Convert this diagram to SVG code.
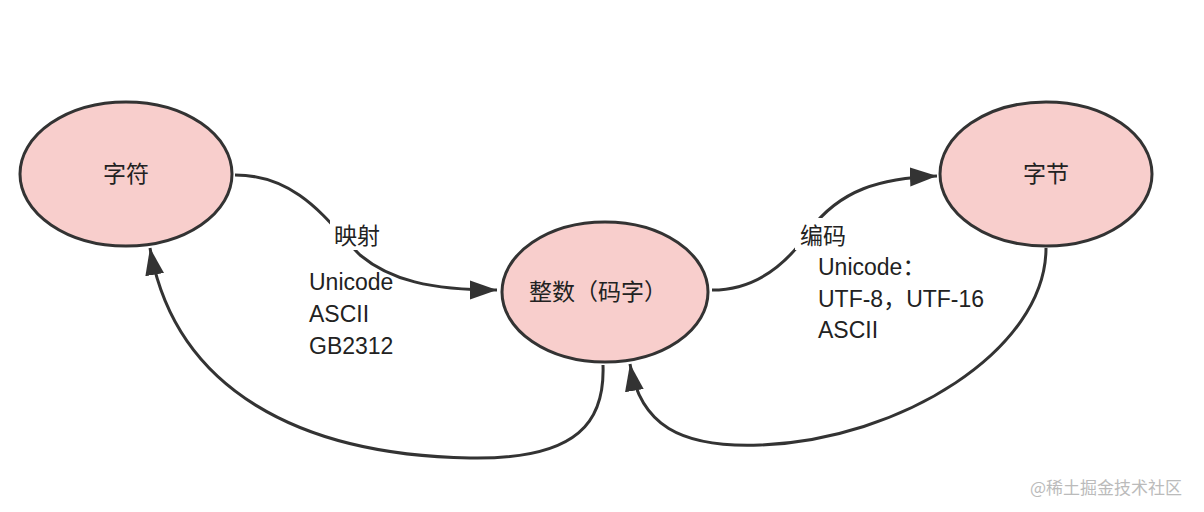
<svg xmlns="http://www.w3.org/2000/svg" width="1204" height="512" viewBox="0 0 1204 512">
<style>
.n{fill:#f8cecc;stroke:#333;stroke-width:3}
.t{font-family:"Liberation Sans","Noto Sans CJK SC",sans-serif;font-size:23px;fill:#222}
.c{fill:none;stroke:#333;stroke-width:3}
.lb{fill:#fff}
</style>
<defs><marker id="b" viewBox="0 0 10 10" refX="10" refY="5" markerWidth="9" markerHeight="9" orient="auto"><path d="M0,1.5L10,5L0,8.5z" fill="#333"/></marker></defs>
<rect width="1204" height="512" fill="#fff"/>
<g id="connectors">
<path class="c" d="M235,175 C300,175 330,225 360,255 C390,280 430,290 497,290" marker-end="url(#b)"/>
<path class="c" d="M712,290 C760,290 790,260 810,230 C840,190 880,178 937,176" marker-end="url(#b)"/>
<path class="c" d="M603,365 C605,420 580,460 470,458 C300,455 175,390 150,248" marker-end="url(#b)"/>
<path class="c" d="M1046,248 C1046,350 900,440 760,445 C680,448 640,425 630,364" marker-end="url(#b)"/>
<rect class="lb" x="330" y="218" width="70" height="32"/>
<text class="t" x="334" y="244">映射</text>
<text class="t" x="309" y="290">Unicode</text>
<text class="t" x="309" y="322">ASCII</text>
<text class="t" x="309" y="354">GB2312</text>
<rect class="lb" x="795" y="218" width="60" height="32"/>
<text class="t" x="800" y="244">编码</text>
<text class="t" x="818" y="275">Unicode：</text>
<text class="t" x="818" y="307">UTF-8，UTF-16</text>
<text class="t" x="818" y="338">ASCII</text>
</g>
<g id="n1"><ellipse class="n" cx="126" cy="174" rx="106" ry="72"/><text class="t" x="126" y="182" text-anchor="middle">字符</text></g>
<g id="n2"><ellipse class="n" cx="605" cy="292" rx="103" ry="70"/><text class="t" x="598" y="300" text-anchor="middle">整数（码字）</text></g>
<g id="n3"><ellipse class="n" cx="1046" cy="174" rx="106" ry="72"/><text class="t" x="1046" y="182" text-anchor="middle">字节</text></g>
<text x="1030" y="494" style="font-family:'Noto Sans CJK SC',sans-serif;font-size:17px;fill:#bbb">@稀土掘金技术社区</text>
</svg>
